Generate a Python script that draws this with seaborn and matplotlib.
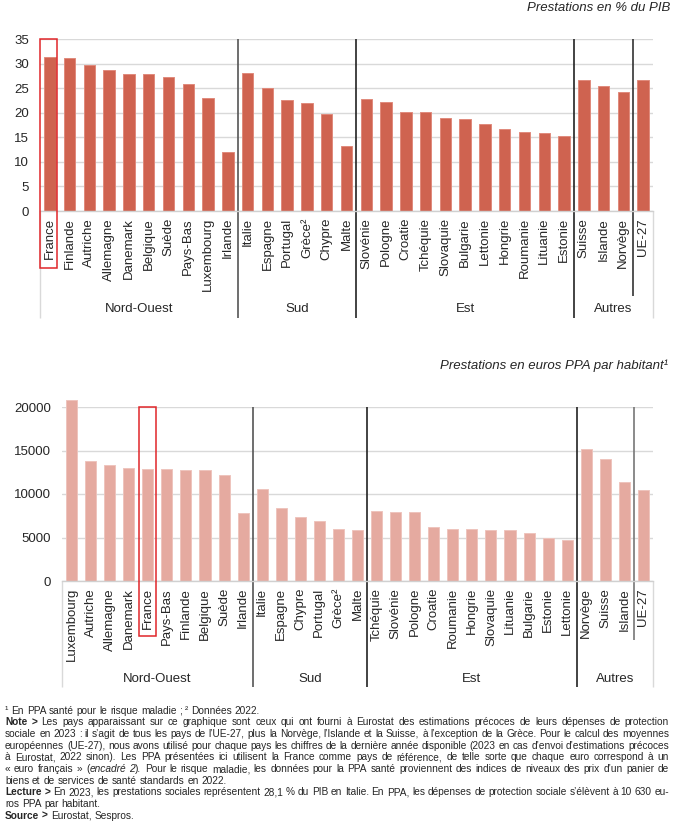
import matplotlib
matplotlib.use("Agg")
import matplotlib.pyplot as plt
from matplotlib.transforms import blended_transform_factory
from matplotlib.lines import Line2D
from matplotlib.patches import Rectangle
import seaborn as sns
import pandas as pd

# ---------------- data ----------------
top_countries = ["France", "Finlande", "Autriche", "Allemagne", "Danemark", "Belgique", "Suède",
                 "Pays-Bas", "Luxembourg", "Irlande", "Italie", "Espagne", "Portugal", "Grèce²",
                 "Chypre", "Malte", "Slovénie", "Pologne", "Croatie", "Tchéquie", "Slovaquie",
                 "Bulgarie", "Lettonie", "Hongrie", "Roumanie", "Lituanie", "Estonie", "Suisse",
                 "Islande", "Norvège", "UE-27"]
top_values = [31.3, 31.2, 29.7, 28.6, 27.9, 27.8, 27.3, 25.8, 22.9, 12.0, 28.1, 25.0, 22.6, 22.0,
              19.8, 13.2, 22.8, 22.2, 20.2, 20.2, 19.0, 18.8, 17.8, 16.6, 16.0, 15.8, 15.3, 26.6,
              25.5, 24.3, 26.6]

bottom_countries = ["Luxembourg", "Autriche", "Allemagne", "Danemark", "France", "Pays-Bas",
                    "Finlande", "Belgique", "Suède", "Irlande", "Italie", "Espagne", "Chypre",
                    "Portugal", "Grèce²", "Malte", "Tchéquie", "Slovénie", "Pologne", "Croatie",
                    "Roumanie", "Hongrie", "Slovaquie", "Lituanie", "Bulgarie", "Estonie",
                    "Lettonie", "Norvège", "Suisse", "Islande", "UE-27"]
bottom_values = [20800, 13800, 13370, 12990, 12910, 12910, 12760, 12720, 12180, 7810, 10630, 8350,
                 7360, 6930, 5980, 5900, 8080, 7970, 7890, 6210, 6010, 5940, 5820, 5820, 5520,
                 4900, 4750, 15210, 14060, 11410, 10490]

group_names = ["Nord-Ouest", "Sud", "Est", "Autres"]
group_bounds = [-0.5, 9.5, 15.5, 26.5, 30.5]

top_title = "Prestations en % du PIB"
bottom_title = "Prestations en euros PPA par habitant¹"
top_yticks = [0, 5, 10, 15, 20, 25, 30, 35]
bottom_yticks = [0, 5000, 10000, 15000, 20000]

# ---------------- style ----------------
sns.set_style("white")
plt.rcParams["font.family"] = ["Liberation Sans", "DejaVu Sans"]
FS = 9.5
W, H = 684, 827
fig = plt.figure(figsize=(W / 100, H / 100), dpi=100)


def px_axes(l, t, r, b):
    return fig.add_axes([l / W, 1 - b / H, (r - l) / W, (b - t) / H])


def vline(ax, x, y0, y1, color, lw):
    tr = blended_transform_factory(ax.transData, ax.transAxes)
    ax.add_line(Line2D([x, x], [y0, y1], transform=tr, color=color, lw=lw,
                       clip_on=False, solid_capstyle="butt"))


def make_chart(ax, countries, values, color, edge, yticks, label_bottom, short_bottom,
               group_y, rect_x, rect_bottom, sep_colors):
    df = pd.DataFrame({"pays": countries, "valeur": values})
    sns.barplot(data=df, x="pays", y="valeur", order=countries, color=color, saturation=1,
                width=0.58, edgecolor=edge, linewidth=0.7, ax=ax, zorder=2)
    for p in ax.patches:
        p.set_clip_on(False)
    ax.set_xlim(-0.5, 30.5)
    ax.set_ylim(yticks[0], yticks[-1])
    ax.set_yticks(yticks)
    ax.set_yticklabels([str(v) for v in yticks], fontsize=FS)
    ax.set_xticks(range(len(countries)))
    ax.set_xticklabels(countries, rotation=90, fontsize=FS, va="top", ha="center")
    ax.tick_params(axis="x", length=0, pad=5)
    ax.tick_params(axis="y", length=0, pad=8)
    ax.set_xlabel("")
    ax.set_ylabel("")
    ax.yaxis.grid(True, color="#d9d9d9", lw=1)
    ax.set_axisbelow(True)
    for s in ["left", "right", "top"]:
        ax.spines[s].set_visible(False)
    ax.spines["bottom"].set_color("#d0d0d0")
    ax.spines["bottom"].set_linewidth(1)
    # light borders of the label area
    vline(ax, -0.5, 0, label_bottom, "#d9d9d9", 1)
    vline(ax, 30.5, 0, label_bottom, "#d9d9d9", 1)
    # group separators
    for x, c in zip(group_bounds[1:-1], sep_colors[:3]):
        vline(ax, x, 1, label_bottom, c, 1.2)
    vline(ax, 29.5, 1, short_bottom, sep_colors[3], 1.2)
    tr = blended_transform_factory(ax.transData, ax.transAxes)
    for name, a, b in zip(group_names, group_bounds[:-1], group_bounds[1:]):
        ax.text((a + b) / 2, group_y, name, transform=tr, ha="center", va="center", fontsize=FS)
    ax.add_patch(Rectangle((rect_x[0], rect_bottom), rect_x[1] - rect_x[0], 1 - rect_bottom,
                           transform=tr, fill=False, edgecolor="#e0262a", lw=1.1,
                           clip_on=False, zorder=5))


ax1 = px_axes(40, 39, 653, 211)
make_chart(ax1, top_countries, top_values, "#cf6350", "#e08a7c", top_yticks,
           (211 - 318) / 172, (211 - 296) / 172, (211 - 309.5) / 172,
           (-0.48, 0.37), (211 - 268) / 172, ["#555555", "#222222", "#222222", "#333333"])

ax2 = px_axes(62, 407, 653, 581)
make_chart(ax2, bottom_countries, bottom_values, "#e5aaa0", "#eec4bd", bottom_yticks,
           (581 - 687) / 174, (581 - 640) / 174, (581 - 679) / 174,
           (3.56, 4.45), (581 - 636) / 174, ["#555555", "#222222", "#222222", "#777777"])

fig.text(670 / W, 1 - 8 / H, top_title, ha="right", va="center", style="italic", fontsize=FS)
fig.text(668 / W, 1 - 366 / H, bottom_title, ha="right", va="center", style="italic", fontsize=FS)

# ---------------- footnotes ----------------
R = "normal"
B = "bold"
I = "italic"
foot_lines = [
    ([("¹ En PPA santé pour le risque maladie ; ² Données 2022.", R)], False),
    ([("Note >", B), ("Les pays apparaissant sur ce graphique sont ceux qui ont fourni à Eurostat des estimations précoces de leurs dépenses de protection", R)], True),
    ([("sociale en 2023 : il s’agit de tous les pays de l’UE-27, plus la Norvège, l’Islande et la Suisse, à l’exception de la Grèce. Pour le calcul des moyennes", R)], True),
    ([("européennes (UE-27), nous avons utilisé pour chaque pays les chiffres de la dernière année disponible (2023 en cas d’envoi d’estimations précoces", R)], True),
    ([("à Eurostat, 2022 sinon). Les PPA présentées ici utilisent la France comme pays de référence, de telle sorte que chaque euro correspond à un", R)], True),
    ([("« euro français » (", R), ("encadré 2", I), ("). Pour le risque maladie, les données pour la PPA santé proviennent des indices de niveaux des prix d’un panier de", R)], True),
    ([("biens et de services de santé standards en 2022.", R)], False),
    ([("Lecture >", B), ("En 2023, les prestations sociales représentent 28,1 % du PIB en Italie. En PPA, les dépenses de protection sociale s’élèvent à 10 630 eu-", R)], True),
    ([("ros PPA par habitant.", R)], False),
    ([("Source >", B), ("Eurostat, Sespros.", R)], False),
]

renderer = fig.canvas.get_renderer()


def props(st):
    if st == B:
        return dict(fontweight="bold")
    if st == I:
        return dict(style="italic")
    return {}


def measure(s, st, fs):
    t = fig.text(0, 0, s, fontsize=fs, **props(st))
    w = t.get_window_extent(renderer).width
    t.remove()
    return w


# font size so that a reference line has the width seen in the chart (about 221 px)
ref_w = measure("biens et de services de santé standards en 2022.", R, 10)
FFS = 10 * 221 / ref_w

space_w = measure("a a", R, FFS) - measure("aa", R, FFS)
x_left, x_right = 5, 669
y0 = 713.5
dy = 11.7

for i, (segs, justify) in enumerate(foot_lines):
    words = []
    for si, (txt, st) in enumerate(segs):
        parts = txt.split(" ")
        for pi, p in enumerate(parts):
            if p == "":
                continue
            glue = (pi == 0 and si > 0 and words
                    and not segs[si - 1][0].endswith(" ")
                    and segs[si - 1][1] != B and st != B)
            if glue:
                words[-1].append((p, st))
            else:
                words.append([(p, st)])
    widths = [sum(measure(p, st, FFS) for p, st in w) for w in words]
    if justify and len(words) > 1:
        gap = (x_right - x_left - sum(widths)) / (len(words) - 1)
        gap = max(gap, space_w * 0.6)
    else:
        gap = space_w
    x = x_left
    y = 1 - (y0 + i * dy) / H
    for w, wd in zip(words, widths):
        xx = x
        for p, st in w:
            fig.text(xx / W, y, p, fontsize=FFS, va="baseline", ha="left", **props(st))
            xx += measure(p, st, FFS)
        x += wd + gap

fig.savefig("out.png", dpi=100)
